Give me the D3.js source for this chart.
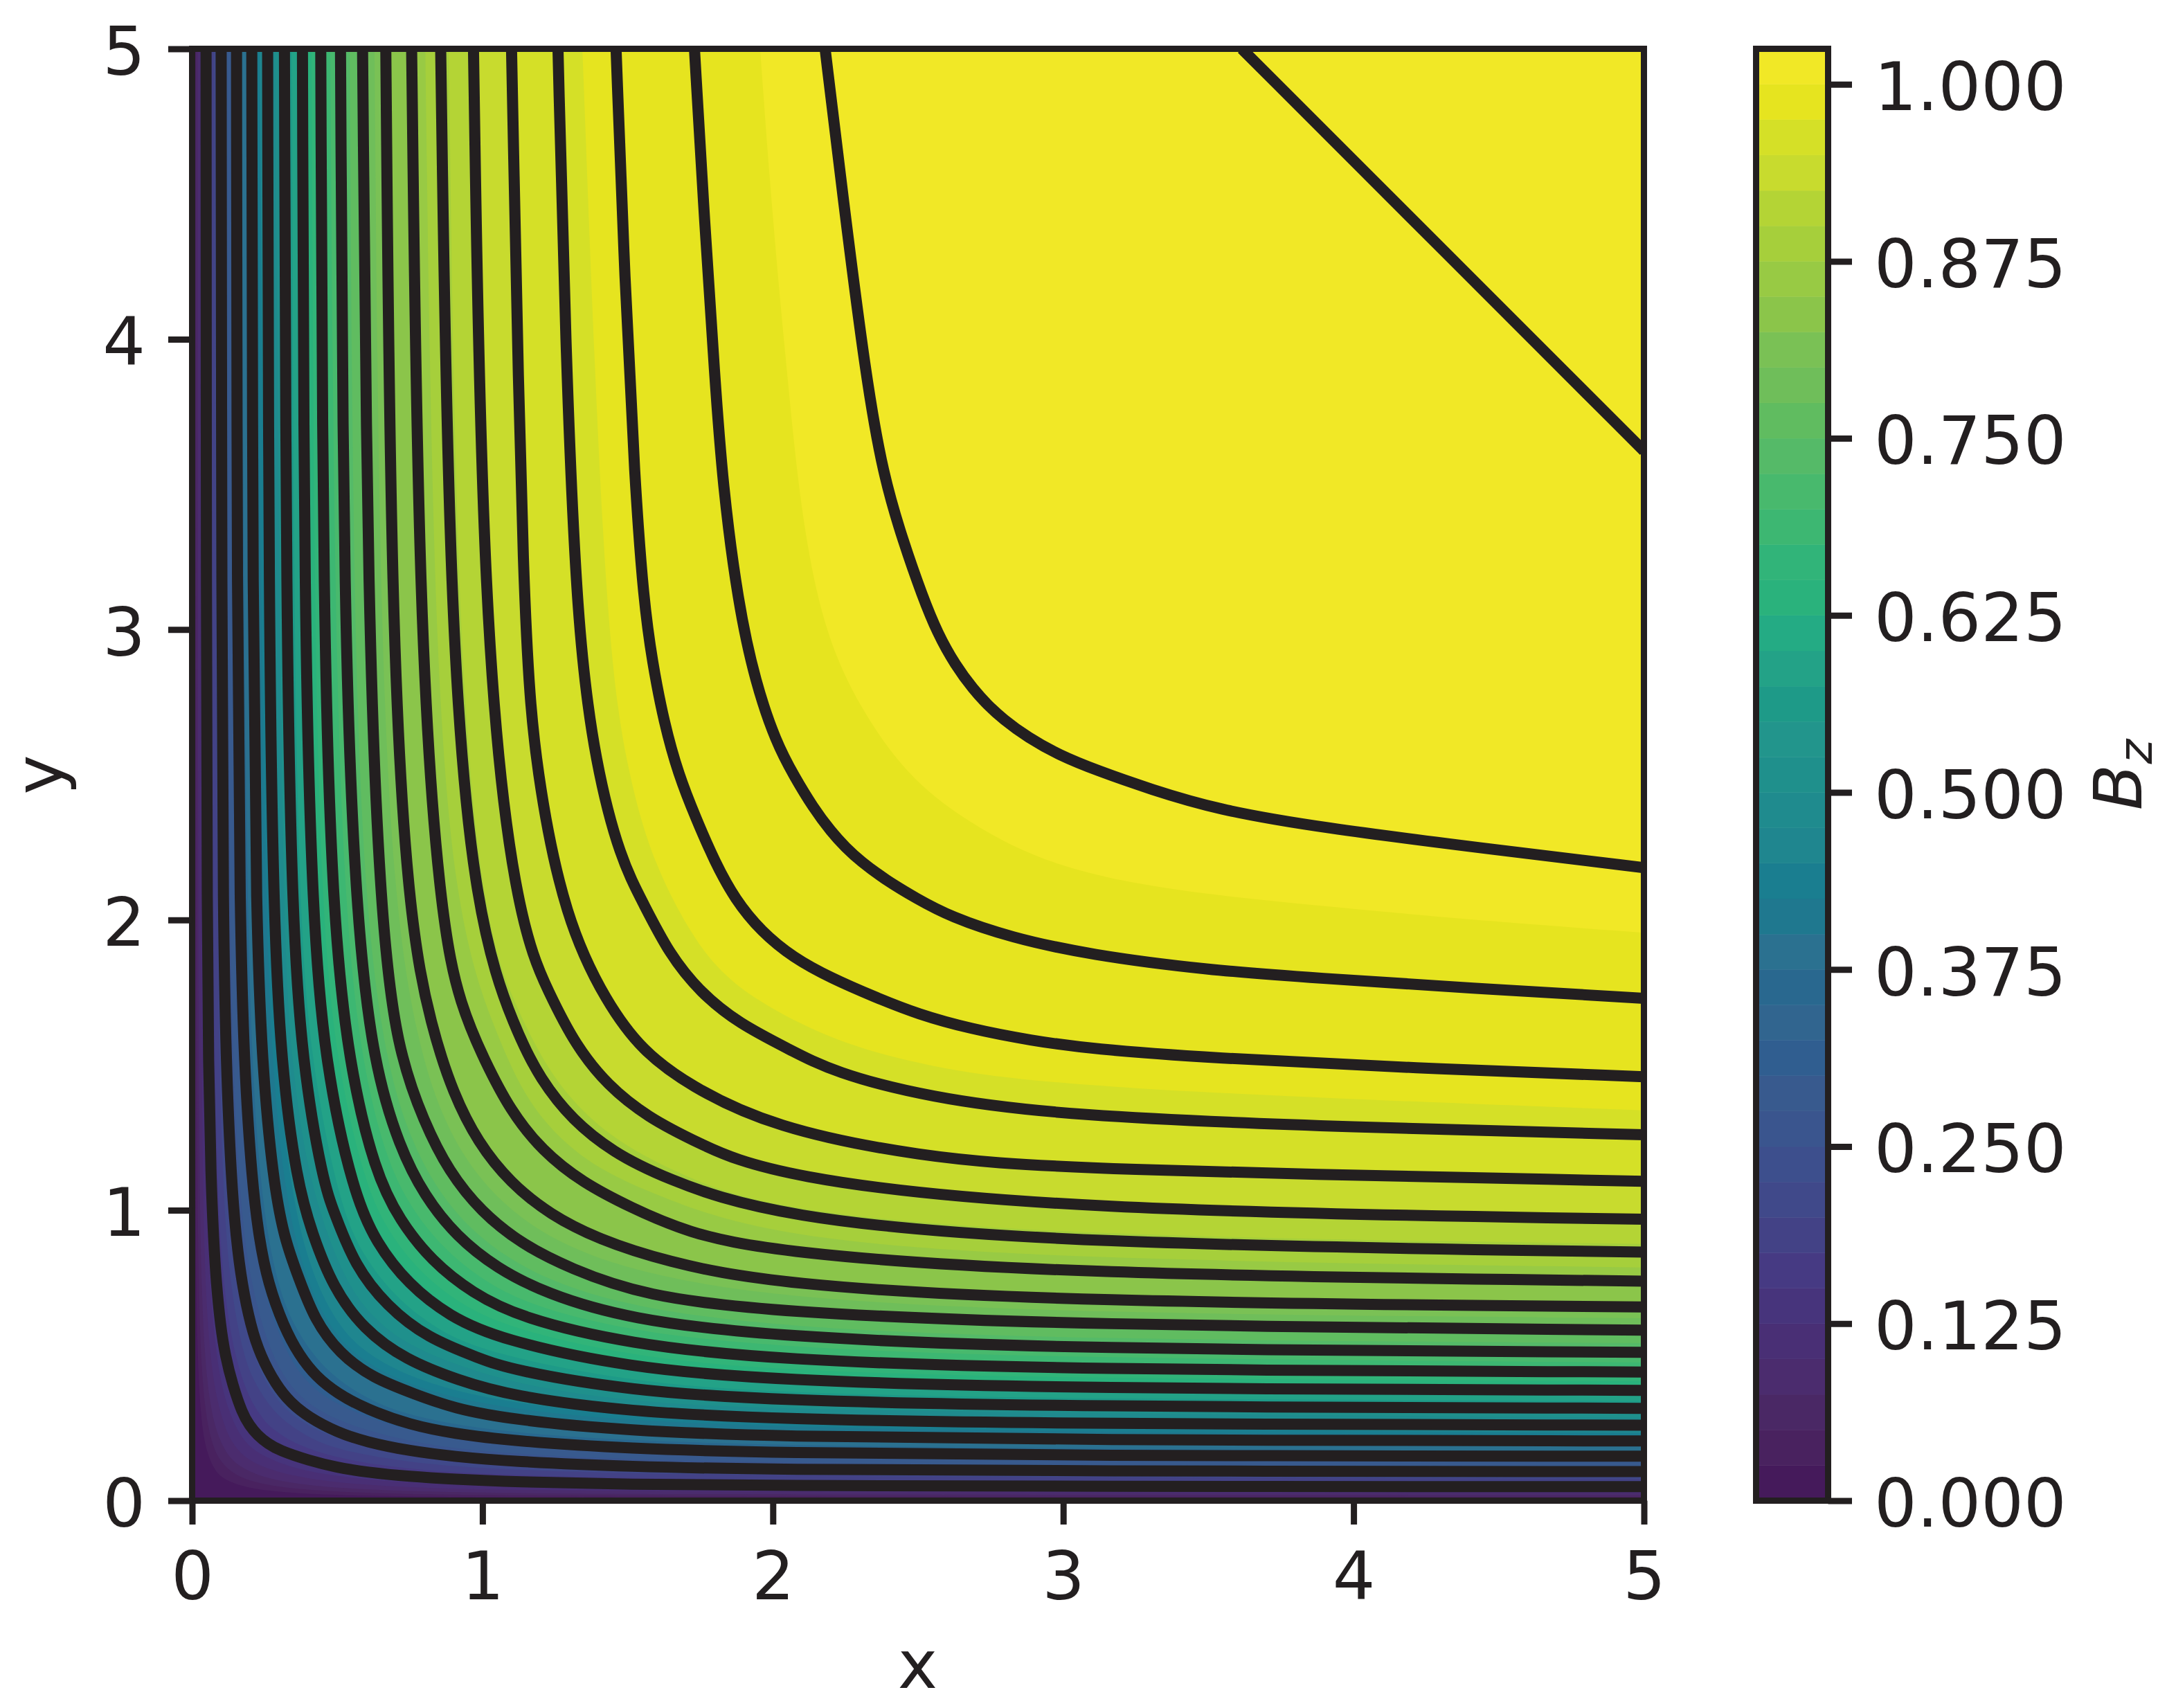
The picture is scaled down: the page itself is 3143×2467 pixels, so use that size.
<!DOCTYPE html>
<meta charset="utf-8">
<style>

body {
  margin: 0;
  background-color: white;
  overflow: hidden;
}

text {
  font-family: "DejaVu Sans";
  font-size: 97px;
  fill: #231f20;
}

</style>
<body>

<script src="https://d3js.org/d3.v7.min.js"></script>
<script>

var xTicks = [0, 1, 2, 3, 4, 5];
var yTicks = [0, 1, 2, 3, 4, 5];
var cbarTicks = [0, 0.125, 0.25, 0.375, 0.5, 0.625, 0.75, 0.875, 1];
var cbarStep = 0.025;

// Band colours, bottom to top.
var bandColors = [
  "#451a5b", "#49225f", "#4a2865", "#4b2c6e", "#492f75", "#47347c", "#463a83", "#434286",
  "#40498a", "#3d4f8d", "#3a558e", "#385a8e", "#305e90", "#31658f", "#29688f", "#2b7190",
  "#1f788f", "#1a7e90", "#1f868f", "#1f8b8e", "#1f908c", "#22958c", "#1e9a88", "#23a287",
  "#24ab84", "#2ab27c", "#31b479", "#3db772", "#48b96d", "#55ba68", "#60bc60", "#6fbe5a",
  "#7ac155", "#8bc54a", "#98ca44", "#a6cf3b", "#b4d435", "#c8db2e", "#d5e027", "#e6e41f",
  "#f1e826"
];

// Black contour lines: [x, y] read from the right edge in to the diagonal.
// The field is symmetric about y = x, so only that half is listed.
var line05 = [[5,.048],[3,.049],[2,.052],[1.5,.056],[1.1,.065],[.9,.074],[.75,.083],[.6,.098],[.5,.114],[.4,.139],[.3,.173],[.26,.197],[.225,.225]];
var line10 = [[5,.1],[3,.102],[2,.107],[1.5,.117],[1.1,.135],[.9,.152],[.75,.171],[.6,.202],[.5,.235],[.4,.288],[.338,.338]];
var line15 = [[5,.153],[3,.155],[2,.165],[1.5,.179],[1.1,.206],[.9,.231],[.75,.261],[.6,.315],[.5,.369],[.427,.427]];
var line20 = [[5,.2055],[3,.209],[2,.221],[1.5,.241],[1.1,.279],[.9,.318],[.767,.367],[.622,.422],[.507,.507]];
var line25 = [[5,.26],[3,.264],[2,.281],[1.5,.307],[1.1,.36],[.915,.415],[.735,.485],[.59,.59]];
var line30 = [[5,.318],[3,.324],[2,.345],[1.5,.38],[1.1,.45],[.99,.49],[.81,.56],[.67,.67]];
var line35 = [[5,.38],[3,.386],[2,.415],[1.5,.458],[1.06,.555],[.885,.635],[.745,.745]];
var line40 = [[5,.443],[3,.451],[2,.485],[1.5,.54],[1.13,.63],[.965,.715],[.825,.825]];
var line45 = [[5,.511],[3,.522],[2,.565],[1.5,.625],[1.215,.715],[1.05,.8],[.91,.91]];
var line50 = [[5,.587],[3,.605],[2,.65],[1.555,.705],[1.3,.8],[1.134,.884],[.995,.995]];
var line55 = [[5,.667],[3,.685],[2,.745],[1.625,.825],[1.4,.9],[1.234,.984],[1.095,1.095]];
var line60 = [[5,.756],[3,.78],[2,.855],[1.7,.925],[1.51,1.01],[1.345,1.095],[1.205,1.205]];
var line65 = [[5,.856],[3,.885],[2,.975],[1.615,1.115],[1.45,1.2],[1.31,1.31]];
var line70 = [[5,.969],[3,1],[2,1.115],[1.735,1.235],[1.57,1.32],[1.43,1.43]];
var line75 = [[5,1.1],[3,1.14],[2.5,1.185],[2,1.285],[1.71,1.43],[1.55,1.55]];
var line80 = [[5,1.26],[4,1.285],[3,1.325],[2.53,1.39],[2.21,1.475],[2.055,1.555],[1.883,1.643],[1.75,1.75]];
var line85 = [[5,1.46],[4.2,1.49],[3.5,1.525],[3.1,1.555],[2.887,1.585],[2.68,1.625],[2.5,1.675],[2.35,1.735],[2.2,1.8],[2.07,1.87],[1.96,1.96]];
var line90 = [[5,1.73],[4.4,1.765],[3.87,1.8],[3.5,1.827],[3.09,1.88],[2.817,1.94],[2.611,2.011],[2.494,2.074],[2.388,2.138],[2.302,2.202],[2.25,2.25]];
var line95 = [[5,2.18],[4.5,2.24],[3.87,2.32],[3.53,2.38],[3.3,2.45],[3.115,2.515],[2.987,2.567],[2.878,2.628],[2.792,2.692],[2.74,2.74]];
var line100 = [[5,3.615],[4.3075,4.3075]];

var contourLines = [line05, line10, line15, line20, line25, line30, line35, line40, line45, line50,
  line55, line60, line65, line70, line75, line80, line85, line90, line95, line100];

// Edges between colour bands, lowest band edge first. Where an edge sits
// under a black line the line's own points are used.
var fillEdges = [
  [[5,.008],[2,.009],[1.1,.011],[.75,.014],[.5,.019],[.35,.026],[.25,.035],[.18,.047],[.12,.069],[.09,.09]],
  [[5,.013],[2,.014],[1.1,.018],[.75,.022],[.5,.03],[.35,.041],[.25,.055],[.18,.075],[.15,.09],[.115,.115]],
  [[5,.019],[2,.02],[1.1,.025],[.75,.032],[.5,.043],[.35,.059],[.25,.079],[.18,.108],[.138,.138]],
  [[5,.027],[2,.029],[1.1,.036],[.75,.045],[.5,.061],[.35,.084],[.25,.113],[.2,.138],[.165,.165]],
  [[5,.036],[2,.039],[1.1,.048],[.75,.06],[.5,.082],[.35,.111],[.25,.15],[.19,.19]],
  line05,
  [[5,.062],[2,.068],[1.1,.085],[.75,.106],[.5,.144],[.35,.197],[.3,.232],[.26,.26]],
  [[5,.075],[2,.083],[1.1,.103],[.75,.129],[.5,.175],[.4,.217],[.29,.29]],
  [[5,.09],[2,.097],[1.1,.12],[.75,.151],[.5,.21],[.4,.257],[.315,.315]],
  line10,
  [[5,.115],[2,.123],[1.1,.156],[.75,.198],[.5,.272],[.4,.335],[.367,.367]],
  [[5,.137],[2,.148],[1.1,.184],[.75,.233],[.5,.325],[.4,.4]],
  [[5,.144],[2,.152],[1.1,.194],[.75,.246],[.5,.345],[.414,.414]],
  line15,
  [[5,.169],[2,.182],[1.1,.226],[.75,.29],[.6,.349],[.451,.451]],
  [[5,.211],[2,.226],[1.1,.287],[.75,.371],[.6,.448],[.515,.515]],
  [[5,.224],[2,.241],[1.1,.303],[.75,.393],[.6,.475],[.532,.532]],
  [[5,.2325],[2,.257],[1.1,.323],[.75,.42],[.6,.51],[.553,.553]],
  line25,
  [[5,.285],[2,.309],[1.5,.342],[1.1,.4],[.76,.52],[.625,.625]],
  [[5,.31],[2,.338],[1.5,.372],[.98,.48],[.8,.555],[.66,.66]],
  [[5,.324],[3,.33],[2,.352],[1.5,.388],[.995,.495],[.82,.57],[.68,.68]],
  [[5,.343],[3,.35],[2,.371],[1.5,.41],[1.01,.51],[.84,.59],[.7,.7]],
  [[5,.37],[3,.378],[2,.405],[1.5,.45],[1.05,.54],[.875,.625],[.735,.735]],
  [[5,.39],[3,.4],[2,.425],[1.5,.473],[1.07,.57],[.9,.65],[.76,.76]],
  [[5,.411],[3,.42],[2,.448],[1.5,.498],[1.09,.595],[.925,.675],[.785,.785]],
  line40,
  [[5,.4757],[3,.49],[2,.528],[1.5,.585],[1.17,.67],[1.005,.755],[.866,.866]],
  line45,
  [[5,.5425],[3,.555],[2,.598],[1.5,.67],[1.25,.75],[1.085,.835],[.945,.945]],
  line50,
  [[5,.628],[3,.645],[2,.7],[1.57,.78],[1.35,.85],[1.184,.934],[1.045,1.045]],
  line55,
  line60,
  [[5,.803],[3,.83],[2,.905],[1.6,1.05],[1.394,1.144],[1.255,1.255]],
  [[5,.884],[3,.91],[2,1],[1.71,1.11],[1.49,1.22],[1.34,1.34]],
  line70,
  [[5,1.115],[3,1.155],[2.5,1.2],[2,1.3],[1.72,1.445],[1.565,1.565]],
  [[5,1.344],[3,1.42],[2.5,1.5],[2.19,1.59],[1.94,1.724],[1.82,1.82]],
  [[5,1.956],[4.4,2],[3.87,2.05],[3.365,2.1],[2.955,2.185],[2.68,2.33],[2.48,2.48]]
];

var inkColor = "#231f20",
    spineWidth = 9,
    tickLength = 34.5,
    lineWidth = 16;

var left = 277.5, right = 2374.5, top_ = 70.5, bottom = 2167.5;
var barLeft = 2536.5, barRight = 2640.5;

var x = d3.scaleLinear().domain([0, 5]).range([left, right]);
var y = d3.scaleLinear().domain([0, 5]).range([bottom, top_]);
var barY = d3.scaleLinear().domain([0, 1.025]).range([bottom, top_]);

var svg = d3.select("body").append("svg")
    .attr("width", 3143)
    .attr("height", 2467);

svg.append("rect")
    .attr("width", 3143)
    .attr("height", 2467)
    .attr("fill", "white");

svg.append("clipPath").attr("id", "plot").append("rect")
    .attr("x", left)
    .attr("y", top_)
    .attr("width", right - left)
    .attr("height", bottom - top_);

var curve = d3.line()
    .x(function(d) { return x(d[0]); })
    .y(function(d) { return y(d[1]); })
    .curve(d3.curveBasis);

// Right edge, in to the diagonal, out to the top edge.
function mirrored(half) {
  return half.concat(half.slice(0, -1).reverse().map(function(d) { return [d[1], d[0]]; }));
}

var plot = svg.append("g").attr("clip-path", "url(#plot)");

plot.append("rect")
    .attr("x", left)
    .attr("y", top_)
    .attr("width", right - left)
    .attr("height", bottom - top_)
    .attr("fill", bandColors[0]);

// Paint upward: each band covers everything beyond its lower edge.
plot.selectAll("path.band")
    .data(fillEdges)
  .enter().append("path")
    .attr("class", "band")
    .attr("fill", function(d, i) { return bandColors[i + 1]; })
    .attr("d", function(d) {
      return curve(mirrored(d)) + "L" + x(5) + "," + y(5) + "Z";
    });

plot.selectAll("path.contour")
    .data(contourLines)
  .enter().append("path")
    .attr("class", "contour")
    .attr("fill", "none")
    .attr("stroke", inkColor)
    .attr("stroke-width", lineWidth)
    .attr("d", function(d) { return curve(mirrored(d)); });

svg.append("rect")
    .attr("x", left)
    .attr("y", top_)
    .attr("width", right - left)
    .attr("height", bottom - top_)
    .attr("fill", "none")
    .attr("stroke", inkColor)
    .attr("stroke-width", spineWidth);

function styleAxis(g) {
  g.select(".domain").remove();
  g.selectAll(".tick line")
      .attr("stroke", inkColor)
      .attr("stroke-width", spineWidth);
  g.selectAll(".tick text")
      .attr("fill", inkColor);
  g.attr("font-family", null).attr("font-size", null);
}

function lowerLabels(g) {
  g.selectAll(".tick text").attr("dy", "0.38em");
}

svg.append("g")
    .attr("transform", "translate(0," + bottom + ")")
    .call(d3.axisBottom(x).tickValues(xTicks).tickFormat(d3.format("d")).tickSize(tickLength).tickPadding(39))
    .call(styleAxis);

svg.append("g")
    .attr("transform", "translate(" + left + ",0)")
    .call(d3.axisLeft(y).tickValues(yTicks).tickFormat(d3.format("d")).tickSize(tickLength).tickPadding(33))
    .call(styleAxis)
    .call(lowerLabels);

svg.append("text")
    .attr("x", (left + right) / 2 - 0.5)
    .attr("y", 2438)
    .attr("text-anchor", "middle")
    .text("x");

svg.append("text")
    .attr("transform", "translate(90,1119)rotate(-90)")
    .attr("text-anchor", "middle")
    .text("y");

// Colour bar.
var bar = svg.append("g");

bar.selectAll("rect")
    .data(bandColors)
  .enter().append("rect")
    .attr("x", barLeft)
    .attr("width", barRight - barLeft)
    .attr("y", function(d, i) { return barY((i + 1) * cbarStep); })
    .attr("height", function(d, i) { return barY(i * cbarStep) - barY((i + 1) * cbarStep); })
    .attr("fill", function(d) { return d; })
    .attr("stroke", function(d) { return d; })
    .attr("stroke-width", 0.5);

bar.append("rect")
    .attr("x", barLeft)
    .attr("y", top_)
    .attr("width", barRight - barLeft)
    .attr("height", bottom - top_)
    .attr("fill", "none")
    .attr("stroke", inkColor)
    .attr("stroke-width", spineWidth);

svg.append("g")
    .attr("transform", "translate(" + barRight + ",0)")
    .call(d3.axisRight(barY).tickValues(cbarTicks).tickFormat(d3.format(".3f")).tickSize(tickLength).tickPadding(32))
    .call(styleAxis)
    .call(lowerLabels);

var barLabel = svg.append("text")
    .attr("transform", "translate(3093,1119)rotate(-90)")
    .attr("text-anchor", "middle")
    .attr("font-style", "italic");

barLabel.append("tspan")
    .attr("font-style", "italic")
    .text("B");

barLabel.append("tspan")
    .attr("font-style", "italic")
    .attr("dy", 15)
    .style("font-size", "68px")
    .text("z");

</script>
